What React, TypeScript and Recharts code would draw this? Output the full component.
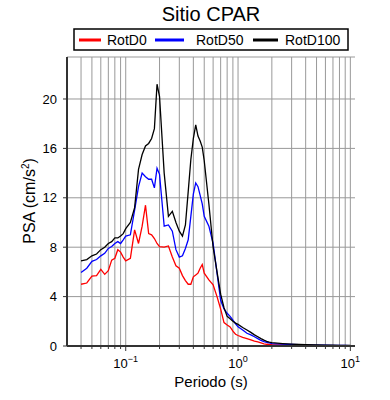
import React from 'react';
import { LineChart, Line, XAxis, YAxis, CartesianGrid, ReferenceLine } from 'recharts';

// Periods (s) and PSA values (cm/s^2)
const periods = [
  0.04, 0.045, 0.05, 0.055, 0.06, 0.065, 0.07, 0.075, 0.08, 0.085, 0.09, 0.095,
  0.1, 0.11, 0.12, 0.13, 0.14, 0.15, 0.16, 0.17, 0.18, 0.19, 0.2, 0.22, 0.24, 0.26,
  0.28, 0.3, 0.32, 0.34, 0.36, 0.38, 0.4, 0.42, 0.44, 0.46, 0.48, 0.5, 0.55, 0.6,
  0.65, 0.7, 0.75, 0.8, 0.85, 0.9, 0.95, 1.0, 1.1, 1.2, 1.3, 1.4, 1.5, 1.6, 1.7,
  1.8, 1.9, 2.0, 2.5, 3.0, 3.5, 4.0, 5.0, 6.0, 7.0, 8.0, 9.0, 10.0,
];

const rotD0 = [
  5.0, 5.1, 5.65, 5.7, 6.2, 5.8, 6.1, 6.95, 7.1, 7.8, 7.6, 7.2,
  6.9, 7.1, 9.4, 8.3, 9.7, 11.4, 9.1, 9.0, 8.7, 8.3, 8.05, 8.0, 8.1, 7.2,
  6.5, 6.3, 5.7, 5.3, 5.0, 5.0, 5.6, 5.75, 5.9, 6.3, 6.6, 5.9, 5.35, 4.95,
  4.0, 3.0, 1.9, 1.7, 1.55, 1.2, 0.95, 0.85, 0.7, 0.6, 0.5, 0.4, 0.33, 0.25, 0.18,
  0.14, 0.12, 0.1, 0.08, 0.06, 0.05, 0.04, 0.03, 0.03, 0.02, 0.02, 0.02, 0.02,
];

const rotD50 = [
  5.95, 6.3, 6.85, 7.0, 7.3, 7.5, 7.9, 8.05, 8.3, 8.45, 8.3, 8.6,
  8.9, 9.0, 11.0, 12.9, 14.0, 13.7, 13.5, 13.5, 12.8, 14.4, 13.9, 9.7, 9.8, 9.3,
  7.8, 7.2, 7.3, 7.9, 8.6, 10.5, 12.3, 13.2, 12.9, 12.2, 11.5, 10.5, 9.7, 8.3,
  5.9, 3.7, 3.0, 2.65, 2.4, 2.1, 1.8, 1.55, 1.3, 1.03, 0.9, 0.75, 0.6, 0.45, 0.36,
  0.3, 0.25, 0.2, 0.15, 0.12, 0.1, 0.08, 0.07, 0.06, 0.05, 0.04, 0.04, 0.03,
];

const rotD100 = [
  6.9, 7.0, 7.3, 7.45, 7.8, 8.0, 8.3, 8.45, 8.75, 8.75, 8.9, 9.1,
  9.5, 10.0, 11.2, 14.3, 15.5, 16.2, 16.4, 16.8, 17.6, 21.2, 20.2, 14.0, 10.5, 10.9,
  10.0, 9.3, 8.9, 9.8, 12.5, 15.1, 16.8, 17.9, 17.0, 16.6, 16.1, 15.0, 11.5, 8.0,
  6.0, 4.2, 3.1, 2.4, 2.2, 2.0, 1.85, 1.75, 1.5, 1.3, 1.1, 0.9, 0.75, 0.6, 0.47,
  0.38, 0.32, 0.28, 0.2, 0.15, 0.12, 0.1, 0.08, 0.07, 0.06, 0.05, 0.05, 0.04,
];

const majorTicks = [0.1, 1, 10];
const majorLabels = ['\u22121', '0', '1'];
const minorTicks = [
  0.04, 0.05, 0.06, 0.07, 0.08, 0.09,
  0.1, 0.2, 0.3, 0.4, 0.5, 0.6, 0.7, 0.8, 0.9,
  1, 2, 3, 4, 5, 6, 7, 8, 9, 10,
];
const yTicks = [0, 4, 8, 12, 16, 20];

const series = [
  { key: 'd0', name: 'RotD0', color: '#ff0000' },
  { key: 'd50', name: 'RotD50', color: '#0000ff' },
  { key: 'd100', name: 'RotD100', color: '#000000' },
];

const data = periods.map((T, i) => ({ T, d0: rotD0[i], d50: rotD50[i], d100: rotD100[i] }));

const FONT = '"Liberation Sans", Arial, Helvetica, sans-serif';
const AXIS = '#333';

const BottomTick = (props: any) => {
  const { x, y, payload } = props;
  const idx = majorTicks.indexOf(payload.value);
  const major = idx >= 0;
  return (
    <g>
      <line x1={x} x2={x} y1={y} y2={y + (major ? 5 : 3)} stroke={AXIS} strokeWidth={1} />
      {major && (
        <text x={x} y={y + 22} textAnchor="middle" fontSize={13} fill="#000" fontFamily={FONT}>
          10<tspan dy={-6} fontSize={9}>{majorLabels[idx]}</tspan>
        </text>
      )}
    </g>
  );
};

const TopTick = (props: any) => {
  const { x, y, payload } = props;
  const major = majorTicks.includes(payload.value);
  return <line x1={x} x2={x} y1={y} y2={y - (major ? 5 : 3)} stroke={AXIS} strokeWidth={1} />;
};

export default function App() {
  return (
    <div style={{ position: 'absolute', left: 0, top: 0, width: 390, height: 400, background: '#fff', fontFamily: FONT }}>
      <LineChart
        width={390}
        height={400}
        data={data}
        margin={{ top: 57, right: 35, left: 27, bottom: 24 }}
      >
        <XAxis
          xAxisId="main"
          dataKey="T"
          type="number"
          scale="log"
          domain={[0.03, 11]}
          allowDataOverflow
          ticks={minorTicks}
          interval={0}
          tick={<BottomTick />}
          tickLine={false}
          tickSize={0}
          tickMargin={0}
          height={30}
          axisLine={{ stroke: AXIS, strokeWidth: 2 }}
        />
        <XAxis
          xAxisId="top"
          orientation="top"
          dataKey="T"
          type="number"
          scale="log"
          domain={[0.03, 11]}
          allowDataOverflow
          ticks={minorTicks}
          interval={0}
          tick={<TopTick />}
          tickLine={false}
          tickSize={0}
          tickMargin={0}
          height={0}
          axisLine={{ stroke: AXIS, strokeWidth: 2 }}
        />
        <YAxis
          yAxisId="left"
          type="number"
          domain={[0, 23.4]}
          allowDataOverflow
          ticks={yTicks}
          interval={0}
          width={40}
          tickSize={4}
          tickMargin={6}
          tick={{ fill: '#000', fontSize: 13, fontFamily: FONT }}
          tickLine={{ stroke: AXIS }}
          axisLine={{ stroke: AXIS, strokeWidth: 2 }}
        />
        <YAxis
          yAxisId="right"
          orientation="right"
          type="number"
          domain={[0, 23.4]}
          ticks={yTicks}
          width={0}
          tick={false}
          tickLine={false}
          axisLine={{ stroke: AXIS, strokeWidth: 2 }}
        />
        <CartesianGrid xAxisId="main" yAxisId="left" vertical={false} stroke="#999" strokeWidth={1} />
        {minorTicks.map((v) => (
          <ReferenceLine key={v} xAxisId="main" yAxisId="left" x={v} stroke="#999" strokeWidth={1} />
        ))}
        {series.map((s) => (
          <Line
            key={s.key}
            xAxisId="main"
            yAxisId="left"
            type="linear"
            dataKey={s.key}
            name={s.name}
            stroke={s.color}
            strokeWidth={1.3}
            dot={false}
            isAnimationActive={false}
          />
        ))}
      </LineChart>

      <svg width={390} height={400} style={{ position: 'absolute', left: 0, top: 0, pointerEvents: 'none' }}>
        <text x={211} y={21} textAnchor="middle" fontSize={20} fill="#000" fontFamily={FONT}>
          Sitio CPAR
        </text>
        <rect x={74} y={29} width={274} height={21} fill="#fff" stroke="#000" strokeWidth={1.5} />
        <line x1={79} x2={101} y1={40} y2={40} stroke="#ff0000" strokeWidth={3} />
        <text x={107} y={45} fontSize={14} fill="#000" fontFamily={FONT}>RotD0</text>
        <line x1={155} x2={184} y1={40} y2={40} stroke="#0000ff" strokeWidth={3} />
        <text x={196} y={45} fontSize={14} fill="#000" fontFamily={FONT}>RotD50</text>
        <line x1={253} x2={278} y1={40} y2={40} stroke="#000000" strokeWidth={3} />
        <text x={285} y={45} fontSize={14} fill="#000" fontFamily={FONT}>RotD100</text>
        <text
          transform="translate(35,201) rotate(-90)"
          textAnchor="middle"
          fontSize={16}
          fill="#000"
          fontFamily={FONT}
        >
          PSA (cm/s<tspan dy={-6} fontSize={10}>2</tspan><tspan dy={6}>)</tspan>
        </text>
        <text x={211} y={387} textAnchor="middle" fontSize={15} fill="#000" fontFamily={FONT}>
          Periodo (s)
        </text>
      </svg>
    </div>
  );
}
